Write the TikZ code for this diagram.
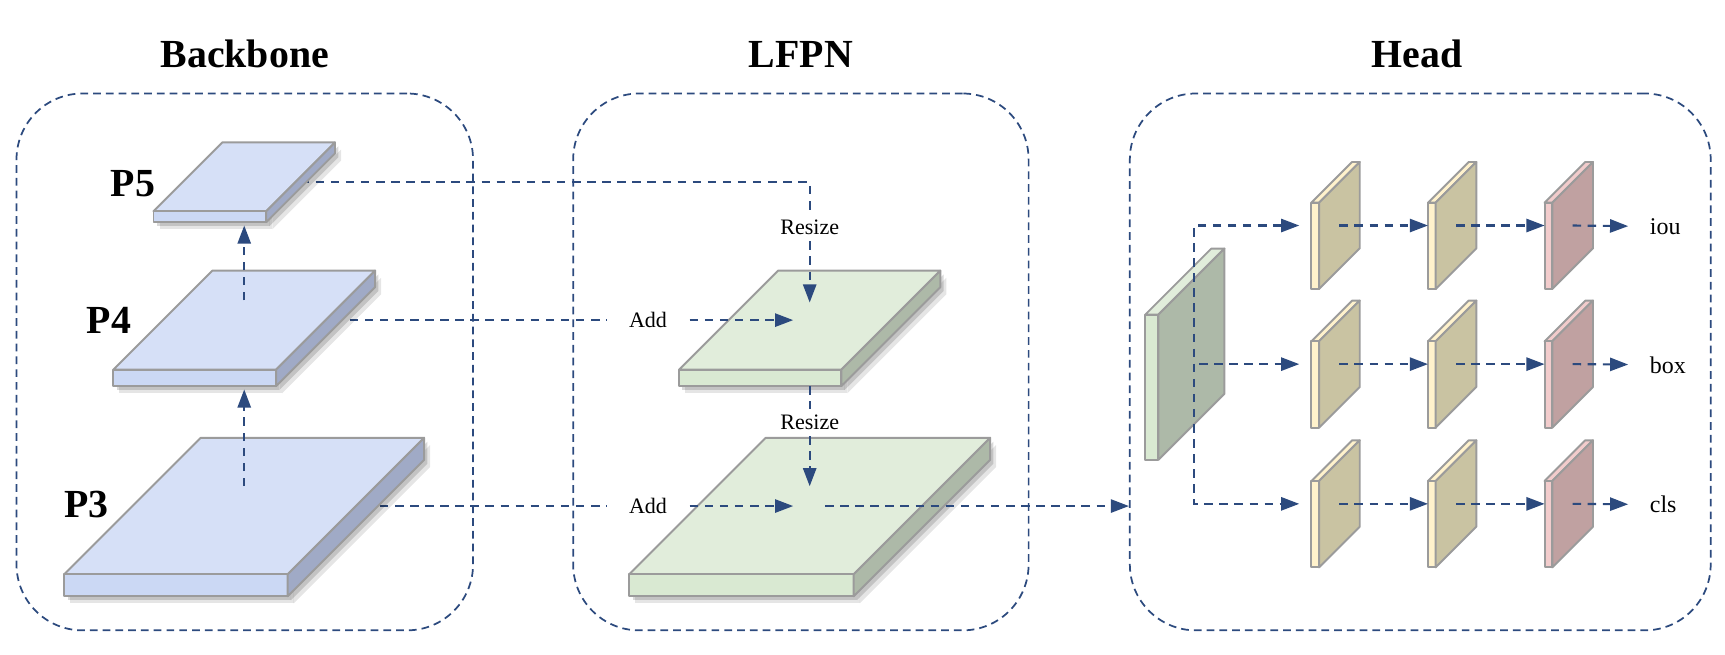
\documentclass[tikz,border=0pt]{standalone}
\usepackage{fontspec}
\setmainfont{Liberation Serif}
\usepackage{xcolor}
\usepackage{tikz}
\usetikzlibrary{arrows.meta,positioning,calc,shadows,backgrounds}
\definecolor{nfLine}       {RGB}{ 44, 74,126}
\definecolor{nfEdge}       {RGB}{155,155,155}
\definecolor{nfBlueTop}    {RGB}{214,224,247}
\definecolor{nfBlueFront}  {RGB}{203,216,244}
\definecolor{nfBlueSide}   {RGB}{160,170,198}
\definecolor{nfGreenTop}   {RGB}{225,237,219}
\definecolor{nfGreenFront} {RGB}{217,233,210}
\definecolor{nfGreenSide}  {RGB}{173,185,168}
\definecolor{nfYellowTop}  {RGB}{255,242,204}
\definecolor{nfYellowFront}{RGB}{255,242,204}
\definecolor{nfYellowSide} {RGB}{201,195,162}
\definecolor{nfRedTop}     {RGB}{242,204,204}
\definecolor{nfRedFront}   {RGB}{242,204,204}
\definecolor{nfRedSide}    {RGB}{192,161,161}

% [opts]{name}{x}{y}{w}{h}{depth}{colour}
\newcommand{\featmap}[8][]{%
  \filldraw[facet,fill=#8Top] (#3,#4) -- ++(#5,0) -- ++(#7,-#7) -- ++(-#5,0) -- cycle;
  \filldraw[facet,fill=#8Front,#1] (#3,#4) rectangle ++(#5,#6);
  \filldraw[facet,fill=#8Side,#1] (#3+#5,#4) -- ++(#7,-#7) -- ++(0,#6) -- ++(-#7,#7) -- cycle;
  \coordinate (#2-t) at (#3+#5/2+#7/2,#4-#7/2);
  \coordinate (#2-s) at (#3+#5/2+#7/2,#4+#6);
  \coordinate (#2-w) at (#3,#4+#6/2-#7/2);
  \coordinate (#2-e) at (#3+#5+#7/2,#4+#6/2-#7/2);
}

\begin{document}
\begin{tikzpicture}[x=0.1mm,y=-0.1mm,
  every node/.style={inner sep=0.5mm},
  grp/.style={draw=nfLine,line width=0.45pt,dash pattern=on 2pt off 1.3pt,
              rounded corners=6mm,minimum height=48.8mm},
  ttl/.style={font=\fontsize{10.3}{12}\selectfont\bfseries,anchor=base},
  plbl/.style={font=\fontsize{10.3}{12}\selectfont\bfseries},
  facet/.style={draw=nfEdge,line width=0.5pt,line join=round},
  plateshade/.style={drop shadow={shadow xshift=0.55mm,shadow yshift=-0.65mm,
                     opacity=0.10,fill=black},
                     drop shadow={shadow xshift=0.3mm,shadow yshift=-0.35mm,
                     opacity=0.15,fill=black}},
  linkline/.style={draw=nfLine,line width=0.55pt,dash pattern=on 2.2pt off 1.7pt},
  flowarrow/.style={linkline,-{Triangle[length=1.65mm,width=1.2mm]}},
  oplbl/.style={font=\fontsize{5.7}{7}\selectfont},
  headlbl/.style={font=\fontsize{6.2}{7.5}\selectfont,anchor=mid west,inner xsep=1.9mm}
]
\useasboundingbox (0,0) rectangle (1568,595);

\node[grp,minimum width=41.5mm] (bbBox) at (222.5,329) {};
\node[grp,minimum width=41.4mm] (lfBox) at (728,329) {};
\node[grp,minimum width=52.8mm] (hdBox) at (1291,329) {};
\node[ttl] (bbTitle) at ([yshift=2.3mm]bbBox.north) {Backbone};
\node[ttl] (lfTitle) at ([yshift=2.3mm]lfBox.north) {LFPN};
\node[ttl] (hdTitle) at ([yshift=2.3mm,xshift=-0.3mm]hdBox.north) {Head};

\featmap[plateshade]{P5}{139.5}{192}{102.5}{10}{62.5}{nfBlue}
\featmap[plateshade]{P4}{103}{336}{148}{15}{90}{nfBlue}
\featmap[plateshade]{P3}{58.5}{522}{203}{20}{124}{nfBlue}
\featmap[plateshade]{L4}{617.25}{336}{147.5}{15}{90}{nfGreen}
\featmap[plateshade]{L3}{572}{522}{204}{20}{124}{nfGreen}

\node[plbl] (p5lbl) at (121,167) {P5};
\node[plbl] (p4lbl) at (99,291) {P4};
\node[plbl] (p3lbl) at (78.5,459) {P3};

\node[oplbl] (rs5) at ([yshift=8.4mm]L4-t) {Resize};
\node[oplbl] (rs4) at ([yshift=7.6mm]L3-t) {Resize};
\node[oplbl,inner xsep=2mm] (add4) at ([xshift=-14.7mm]L4-t) {Add};
\node[oplbl,inner xsep=2mm] (add3) at ([xshift=-14.7mm]L3-t) {Add};

\begin{scope}[on background layer]
\draw[linkline] (P5-e) -| (rs5);
\draw[linkline] (P4-t) -- (add4);
\draw[linkline] (P3-t) -- (add3);
\end{scope}

\draw[flowarrow,shorten <=1.8mm,shorten >=0.3mm] (P4-t) -- (P5-s);
\draw[flowarrow,shorten <=1.8mm,shorten >=0.3mm] (P3-t) -- (P4-s);
\draw[flowarrow,shorten >=1.6mm] (rs5) -- (L4-t);
\draw[flowarrow,shorten >=1.5mm] (add4) -- (L4-t);
\draw[linkline] (L4-s) -- (rs4);
\draw[flowarrow,shorten >=1.8mm] (rs4) -- (L3-t);
\draw[flowarrow,shorten >=1.5mm] (add3) -- (L3-t);
\draw[flowarrow,shorten <=1.4mm] (L3-t) -- (L3-t -| hdBox.west);

\featmap{G}{1041}{286}{12}{132}{60}{nfGreen}
\foreach \r/\y in {1/184.25,2/310.25,3/437.25}{
  \featmap{Y\r1}{1192}{\y}{7}{78.5}{37}{nfYellow}
  \featmap{Y\r2}{1298}{\y}{7}{78.5}{37}{nfYellow}
  \featmap{R\r}{1404}{\y}{7}{78.5}{37}{nfRed}
}
\coordinate (hb) at (1085,331);

\draw[linkline,{Triangle[length=1.65mm,width=1.2mm]}-{Triangle[length=1.65mm,width=1.2mm]},
      shorten <=1.1mm,shorten >=1.1mm] (Y11-w) -| (hb) |- (Y31-w);
\draw[flowarrow,shorten <=0.5mm,shorten >=1.1mm] (hb) -- (Y21-w);
\foreach \r/\lbl in {1/iou,2/box,3/cls}{
  \draw[flowarrow] (Y\r1-e) -- (Y\r2-w);
  \draw[flowarrow] (Y\r2-e) -- (R\r-w);
  \node[headlbl] (\lbl) at ([xshift=5.05mm]R\r-e) {\lbl};
  \draw[flowarrow] (R\r-e) -- (\lbl);
}
\end{tikzpicture}
\end{document}
